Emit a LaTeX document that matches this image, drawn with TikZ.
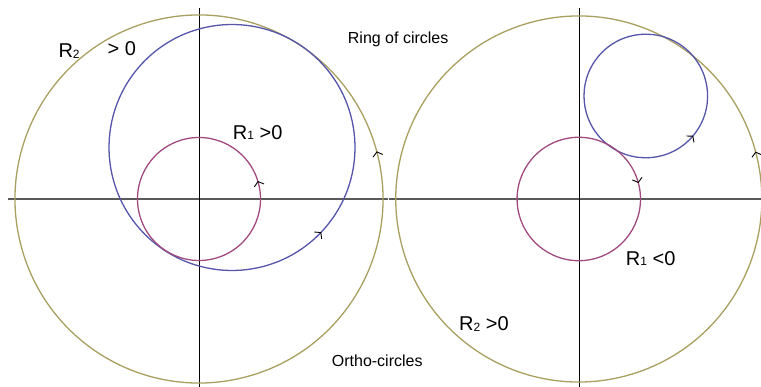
\documentclass[tikz,border=0pt]{standalone}
\usepackage{fontspec}
\setmainfont{Liberation Sans}
\usetikzlibrary{arrows.meta,decorations.markings}
\definecolor{olivec}{HTML}{A89F60}
\definecolor{bluec}{HTML}{5555AA}
\definecolor{magc}{HTML}{A04A80}
\definecolor{axgray}{HTML}{5A5A5A}
\newcommand{\lowsub}[1]{{\fontsize{12}{14}\selectfont\raisebox{-0.5pt}{#1}}}
\tikzset{
  ring/.style={line width=1.3pt},
  haxis/.style={draw=axgray,line width=1.8pt},
  vaxis/.style={draw=black,line width=1pt},
  midarrow/.style={postaction={decorate},decoration={markings,
     mark=at position 0.5 with {\arrow[black,line width=0.9pt]{Straight Barb[length=4pt,width=10pt]}}}},
  lab/.style={inner sep=0pt,anchor=base west},
  bigfont/.style={font=\fontsize{20}{24}\selectfont},
  midfont/.style={font=\fontsize{16}{19}\selectfont}
}
\begin{document}
\begin{tikzpicture}[x=1pt,y=1pt]
\useasboundingbox (0,0) rectangle (761,387);
\begin{scope}
\clip (0,0) rectangle (761,387);
% coordinates
\coordinate (oL) at (199,188);
\coordinate (bL) at (232,239.5);
\coordinate (oR) at (578.8,188);
\coordinate (bR) at (645.8,291);
% axes
\draw[haxis] (8,188) -- (388,188);
\draw[vaxis] (199,379) -- (199,0);
\draw[haxis] (389,188) -- (761,188);
\draw[vaxis] (579.5,379) -- (579.5,0);
% left circles (counterclockwise)
\draw[ring,olivec,midarrow] (oL) ++(-165:184) arc[start angle=-165,delta angle=360,radius=184];
\draw[ring,bluec,midarrow] (bL) ++(136.5:123) arc[start angle=136.5,delta angle=360,radius=123];
\draw[ring,magc,midarrow] (oL) ++(-163:61.5) arc[start angle=-163,delta angle=360,radius=61.5];
% right circles
\draw[ring,olivec,midarrow] (oR) ++(-165:183) arc[start angle=-165,delta angle=360,radius=183];
\draw[ring,bluec,midarrow] (bR) ++(140:61.8) arc[start angle=140,delta angle=360,radius=61.8];
\draw[ring,magc,midarrow] (oR) ++(195:61.7) arc[start angle=195,delta angle=-360,radius=61.7];
\end{scope}
% labels
\node[lab,midfont] (ring) at (347.7,343) {Ring of circles};
\node[lab,midfont] (ortho) at (331.7,20.5) {Ortho-circles};
\node[lab,bigfont] (r2a) at (58.3,329) {R\lowsub{2}};
\node[lab,bigfont] (gt0) at (107.5,331) {> 0};
\node[lab,bigfont] (r1a) at (232.7,247.5) {R\lowsub{1} >0};
\node[lab,bigfont] (r1b) at (625.7,121.5) {R\lowsub{1} <0};
\node[lab,bigfont] (r2b) at (459,56) {R\lowsub{2} >0};
\end{tikzpicture}
\end{document}
